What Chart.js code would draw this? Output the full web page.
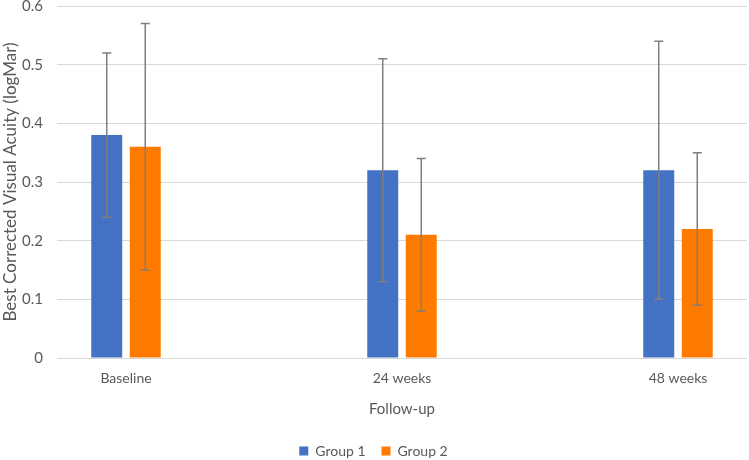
<!DOCTYPE html>
<html lang="en">
<head>
  <meta charset="UTF-8" />
  <title>Best Corrected Visual Acuity</title>
  <script src="https://cdn.jsdelivr.net/npm/chart.js"></script>
  <style>
    html, body { margin: 0; padding: 0; background: #fff; }
    #wrap { width: 749px; height: 460px; }
  </style>
</head>
<body>
  <div id="wrap"><canvas id="grafico"></canvas></div>

  <script>
    // datos
    const categorias = ["Baseline", "24 weeks", "48 weeks"];
    const grupo1 = [0.38, 0.32, 0.32];
    const grupo2 = [0.36, 0.21, 0.22];
    const grupo1Bajo = [0.24, 0.13, 0.10];
    const grupo1Alto = [0.52, 0.51, 0.54];
    const grupo2Bajo = [0.15, 0.08, 0.09];
    const grupo2Alto = [0.57, 0.34, 0.35];
    const ticksY = [0, 0.1, 0.2, 0.3, 0.4, 0.5, 0.6];

    const gris = "#595959";
    const fuente = "Lato, 'Open Sans', sans-serif";

    // barras de error dibujadas con la escala y
    const barrasError = {
      id: "barrasError",
      afterDatasetsDraw(chart) {
        const ctx = chart.ctx;
        const y = chart.scales.y;
        ctx.save();
        ctx.strokeStyle = "#7F7F7F";
        ctx.lineWidth = 1.5;
        chart.data.datasets.forEach((ds, d) => {
          const meta = chart.getDatasetMeta(d);
          meta.data.forEach((bar, i) => {
            const x = bar.x;
            const y1 = y.getPixelForValue(ds.errBajo[i]);
            const y2 = y.getPixelForValue(ds.errAlto[i]);
            ctx.beginPath();
            ctx.moveTo(x, y1); ctx.lineTo(x, y2);
            ctx.moveTo(x - 4.5, y1); ctx.lineTo(x + 4.5, y1);
            ctx.moveTo(x - 4.5, y2); ctx.lineTo(x + 4.5, y2);
            ctx.stroke();
          });
        });
        ctx.restore();
      }
    };

    // baja un poco la leyenda
    const ajusteLeyenda = {
      id: "ajusteLeyenda",
      beforeLayout(chart) {
        const lg = chart.legend;
        if (lg && !lg._ajustada) {
          const fit = lg.fit;
          lg.fit = function () { fit.call(this); this.height -= 8; };
          lg._ajustada = true;
        }
      }
    };

    new Chart(document.getElementById("grafico"), {
      type: "bar",
      data: {
        datasets: [
          {
            label: "Group 1",
            data: grupo1.map((v, i) => ({ x: i, y: v })),
            errBajo: grupo1Bajo,
            errAlto: grupo1Alto,
            backgroundColor: "#4472C4"
          },
          {
            label: "Group 2",
            data: grupo2.map((v, i) => ({ x: i, y: v })),
            errBajo: grupo2Bajo,
            errAlto: grupo2Alto,
            backgroundColor: "#FF7B00"
          }
        ]
      },
      options: {
        responsive: true,
        maintainAspectRatio: false,
        animation: false,
        categoryPercentage: 0.279,
        barPercentage: 0.805,
        layout: { autoPadding: false, padding: { top: 0, right: 2, left: 0, bottom: 0 } },
        plugins: {
          tooltip: { enabled: false },
          legend: {
            position: "bottom",
            labels: {
              boxWidth: 9,
              boxHeight: 9,
              padding: 16,
              color: gris,
              font: { family: fuente, size: 14 }
            }
          }
        },
        scales: {
          x: {
            type: "linear",
            min: -0.25,
            max: 2.25,
            offset: false,
            grid: { display: false, drawTicks: false },
            border: { display: false },
            afterBuildTicks(s) { s.ticks = categorias.map((c, i) => ({ value: i })); },
            afterFit(s) { s.height = 70; },
            ticks: {
              padding: 12,
              maxRotation: 0,
              color: gris,
              font: { family: fuente, size: 14 },
              callback: v => categorias[v]
            },
            title: {
              display: true,
              text: "Follow-up",
              color: gris,
              padding: { top: 12, bottom: 10 },
              font: { family: fuente, size: 15 }
            }
          },
          y: {
            min: 0,
            max: 0.6,
            afterFit(s) { s.width = 57; s.paddingTop = 6; s.paddingBottom = 0; },
            afterBuildTicks(s) { s.ticks = ticksY.map(v => ({ value: v })); },
            grid: { color: "#D9D9D9", lineWidth: 1, drawTicks: false },
            border: { display: false },
            ticks: {
              padding: 14,
              color: gris,
              font: { family: fuente, size: 15 },
              callback: v => String(v)
            },
            title: {
              display: true,
              text: "Best Corrected Visual Acuity (logMar)",
              color: gris,
              padding: { top: 0, bottom: 0 },
              font: { family: fuente, size: 17 }
            }
          }
        }
      },
      plugins: [barrasError, ajusteLeyenda]
    });
  </script>
</body>
</html>
